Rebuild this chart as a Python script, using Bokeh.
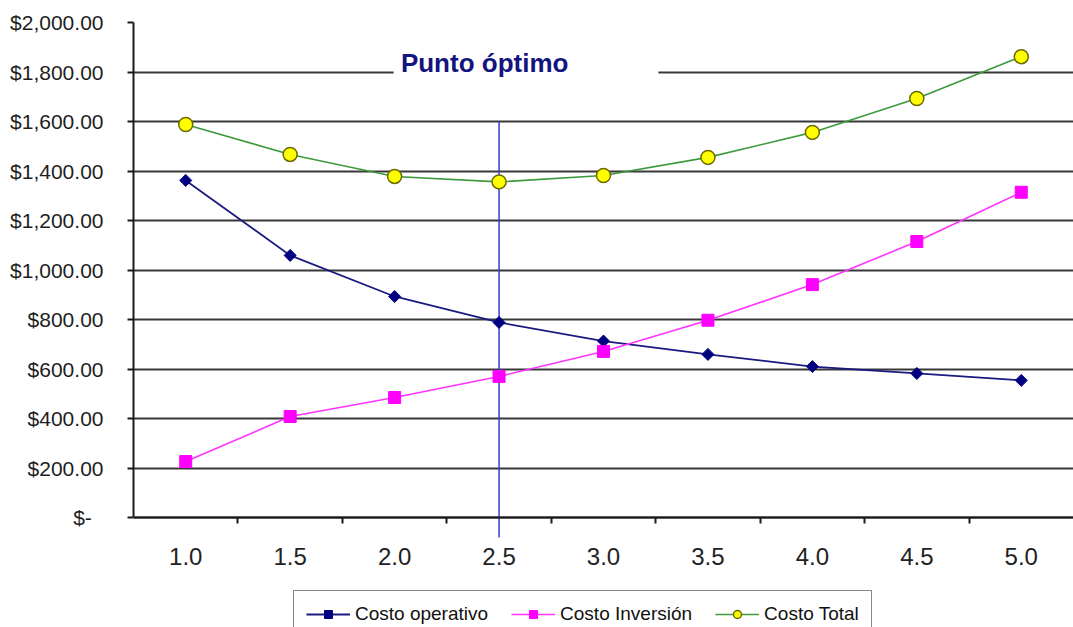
from bokeh.plotting import figure
from bokeh.models import (Range1d, FixedTicker, NumeralTickFormatter, Legend, LegendItem,
                          Label, BoxAnnotation)
from bokeh.embed import file_html
from bokeh.resources import INLINE

# ---- data ----
x_values = [1.0, 1.5, 2.0, 2.5, 3.0, 3.5, 4.0, 4.5, 5.0]
costo_operativo = [1362, 1059, 893, 788, 713, 659, 610, 582, 554]
costo_inversion = [226, 408, 485, 570, 671, 797, 941, 1115, 1314]
costo_total = [1588, 1467, 1378, 1356, 1382, 1455, 1556, 1693, 1862]
y_ticks = [0, 200, 400, 600, 800, 1000, 1200, 1400, 1600, 1800, 2000]
x_boundaries = [1.25, 1.75, 2.25, 2.75, 3.25, 3.75, 4.25, 4.75]
punto_optimo_x = 2.5
punto_optimo_top = 1600
title_text = "Punto óptimo"
series_names = ["Costo operativo", "Costo Inversión", "Costo Total"]

FONT = "Liberation Sans"

p = figure(width=1073, height=627, output_backend="svg", toolbar_location=None,
           x_range=Range1d(0.75, 5.25), y_range=Range1d(-444.4, 2000),
           min_border_left=133, min_border_right=0, min_border_top=22,
           min_border_bottom=0)
p.outline_line_color = None
p.background_fill_color = "white"
p.border_fill_color = "white"

# grid
p.xgrid.grid_line_color = None
p.ygrid.grid_line_color = "#383838"
p.ygrid.grid_line_width = 2
p.ygrid.ticker = FixedTicker(ticks=y_ticks)

# y axis
ya = p.yaxis[0]
ya.ticker = FixedTicker(ticks=y_ticks)
ya.bounds = (0, 2000)
ya.formatter = NumeralTickFormatter(format="$0,0.00")
ya.major_label_overrides = {0: "$-\u00a0\u00a0"}
ya.axis_line_color = "#1a1a1a"
ya.axis_line_width = 2
ya.major_tick_line_color = "#1a1a1a"
ya.major_tick_line_width = 2
ya.major_tick_out = 6
ya.major_tick_in = 0
ya.minor_tick_line_color = None
ya.major_label_standoff = 24
ya.major_label_text_font = FONT
ya.major_label_text_font_size = "21px"
ya.major_label_text_color = "#1e1e1e"

# x axis (placed at y = 0 inside the frame)
xa = p.xaxis[0]
xa.fixed_location = 0
xa.ticker = FixedTicker(ticks=x_values, minor_ticks=x_boundaries)
xa.formatter = NumeralTickFormatter(format="0.0")
xa.axis_line_color = "#1a1a1a"
xa.axis_line_width = 2
xa.major_tick_line_color = None
xa.major_tick_out = 0
xa.major_tick_in = 0
xa.minor_tick_line_color = "#1a1a1a"
xa.minor_tick_line_width = 2
xa.minor_tick_out = 6
xa.minor_tick_in = 0
xa.major_label_standoff = 24
xa.major_label_text_font = FONT
xa.major_label_text_font_size = "24px"
xa.major_label_text_color = "#222222"

# title box hiding the grid line
p.add_layout(BoxAnnotation(left=1.995, right=3.263, bottom=1745, top=1930,
                           fill_color="white", fill_alpha=1.0, line_color=None))
p.add_layout(Label(x=2.03, y=1838, text=title_text, text_font=FONT,
                   text_font_size="26px", text_font_style="bold",
                   text_color="#14147e", text_baseline="middle", text_align="left"))

# optimum vertical line
p.segment(x0=[punto_optimo_x], y0=[punto_optimo_top], x1=[punto_optimo_x], y1=[-81],
          line_color="#3a3ad0", line_width=1.5)

# series
l1 = p.line(x_values, costo_operativo, line_color="#1a1a80", line_width=1.8)
m1 = p.scatter(x_values, costo_operativo, marker="square", size=8.5, angle=0.7854,
               fill_color="#000080", line_color="#000080")
l2 = p.line(x_values, costo_inversion, line_color="#ff33ff", line_width=1.6)
m2 = p.scatter(x_values, costo_inversion, marker="square", size=12,
               fill_color="#ff00ff", line_color="#ff00ff")
l3 = p.line(x_values, costo_total, line_color="#3c9a3c", line_width=1.6)
m3 = p.scatter(x_values, costo_total, marker="circle", size=14,
               fill_color="#ffff00", line_color="#6b6b00", line_width=1.5)

legend = Legend(items=[LegendItem(label=series_names[0], renderers=[l1, m1]),
                       LegendItem(label=series_names[1], renderers=[l2, m2]),
                       LegendItem(label=series_names[2], renderers=[l3, m3])],
                orientation="horizontal", location=(160, -11),
                label_text_font=FONT, label_text_font_size="19px",
                label_text_color="#111111",
                border_line_color="#111111", border_line_width=1.5,
                background_fill_color="white", background_fill_alpha=1.0,
                glyph_width=44, glyph_height=20, spacing=23, padding=12,
                label_standoff=5, margin=0)
p.add_layout(legend, "center")

open("out.html", "w").write(file_html(p, INLINE))
